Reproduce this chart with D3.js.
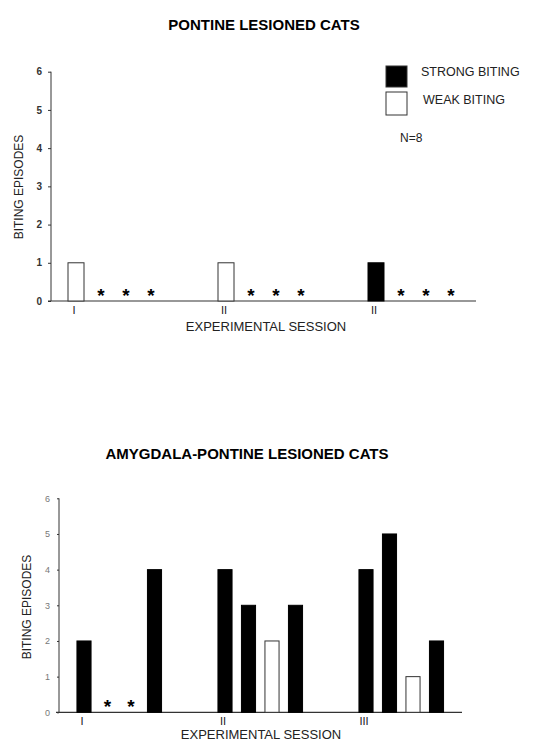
<!DOCTYPE html>
<html>
<head>
<meta charset="utf-8">
<script src="https://cdn.jsdelivr.net/npm/d3@7"></script>
<style>
  body { margin: 0; background: #fff; }
  svg { font-family: "Liberation Sans", Arial, sans-serif; }
  .domain, .tick line { stroke: #333; }
</style>
</head>
<body>
<div id="chart"></div>
<script>
"use strict";

// slots: 3 sessions x 4 cats, two empty slots between sessions
var sessions = ["I", "II", "III"];
var topSessionLabels = ["I", "II", "II"];
var catsPerSession = 4;
var gapSlots = 2;
var yTicks = [0, 1, 2, 3, 4, 5, 6];

// "S" strong biting, "W" weak biting, "*" no biting
var topTypes = ["W", "*", "*", "*", "W", "*", "*", "*", "S", "*", "*", "*"];
var topValues = [1, 0, 0, 0, 1, 0, 0, 0, 1, 0, 0, 0];

var bottomTypes = ["S", "*", "*", "S", "S", "S", "W", "S", "S", "S", "W", "S"];
var bottomValues = [2, 0, 0, 4, 4, 3, 2, 3, 4, 5, 1, 2];

var legendLabels = ["STRONG BITING", "WEAK BITING"];
var nLabel = "N=8";

var width = 534, height = 742;

var svg = d3
  .select("#chart")
  .append("svg")
  .attr("width", width)
  .attr("height", height);

function slotOf(i) {
  var s = Math.floor(i / catsPerSession);
  return s * (catsPerSession + gapSlots) + (i % catsPerSession);
}

function drawPanel(p) {
  var nSlots = sessions.length * (catsPerSession + gapSlots) - gapSlots;
  var x = d3.scaleBand().domain(d3.range(nSlots)).range([p.barStart, p.barEnd]);
  var y = d3.scaleLinear().domain([0, 6]).range([p.bottom, p.top]);
  var bw = x.bandwidth() * p.barFrac;

  var data = p.types.map(function(t, i) {
    return { type: t, value: p.values[i], slot: slotOf(i) };
  });

  var g = svg.append("g");

  // y axis
  var yAxis = g
    .append("g")
    .attr("transform", "translate(" + p.left + ",0)")
    .call(d3.axisLeft(y).tickValues(yTicks).tickSize(p.tickSize).tickPadding(p.tickPad).tickFormat(d3.format("d")));
  yAxis.select(".domain").attr("d", "M0," + y(6) + "V" + y(0));
  yAxis
    .selectAll(".tick text")
    .attr("font-size", p.tickFont)
    .attr("font-weight", p.tickWeight)
    .attr("fill", p.tickColor)
    .attr("font-family", "Liberation Sans, Arial, sans-serif");

  // x baseline
  g.append("line")
    .attr("x1", p.left - 3)
    .attr("x2", p.right)
    .attr("y1", y(0))
    .attr("y2", y(0))
    .attr("stroke", "#333")
    .attr("stroke-width", 1.2);

  // bars
  g.selectAll("rect.bar")
    .data(data.filter(function(d) { return d.type !== "*"; }))
    .enter()
    .append("rect")
    .attr("class", "bar")
    .attr("x", function(d) { return x(d.slot) + (x.bandwidth() - bw) / 2; })
    .attr("width", bw)
    .attr("y", function(d) { return y(d.value); })
    .attr("height", function(d) { return y(0) - y(d.value); })
    .attr("fill", function(d) { return d.type === "S" ? "#000" : "#fff"; })
    .attr("stroke", function(d) { return d.type === "S" ? "#000" : "#333"; })
    .attr("stroke-width", 1);

  // stars for no biting
  g.selectAll("text.star")
    .data(data.filter(function(d) { return d.type === "*"; }))
    .enter()
    .append("text")
    .attr("class", "star")
    .attr("x", function(d) { return x(d.slot) + x.bandwidth() / 2; })
    .attr("y", y(0) + 1)
    .attr("text-anchor", "middle")
    .attr("font-size", 19)
    .attr("font-weight", "bold")
    .text("*");

  // session labels
  g.selectAll("text.session")
    .data(p.sessionLabels)
    .enter()
    .append("text")
    .attr("class", "session")
    .attr("x", function(d, i) { return x(i * (catsPerSession + gapSlots)) + x.bandwidth() / 2 - 2; })
    .attr("y", y(0) + p.sessionDy)
    .attr("text-anchor", "middle")
    .attr("font-size", 11)
    .attr("fill", "#222")
    .text(function(d) { return d; });

  g.append("text")
    .attr("x", p.xLabelX)
    .attr("y", y(0) + p.xLabelDy)
    .attr("text-anchor", "middle")
    .attr("font-size", 13)
    .attr("fill", "#222")
    .text("EXPERIMENTAL SESSION");

  g.append("text")
    .attr("transform", "translate(" + p.yLabelX + "," + p.yLabelY + ") rotate(-90)")
    .attr("text-anchor", "middle")
    .attr("font-size", 12)
    .attr("fill", "#222")
    .text("BITING EPISODES");

  g.append("text")
    .attr("x", p.titleX)
    .attr("y", p.titleY)
    .attr("text-anchor", "middle")
    .attr("font-size", 15)
    .attr("font-weight", "bold")
    .text(p.title);
}

drawPanel({
  title: "PONTINE LESIONED CATS",
  titleX: 264, titleY: 30,
  types: topTypes, values: topValues, sessionLabels: topSessionLabels,
  left: 51, right: 476, top: 71.7, bottom: 301,
  barStart: 63.5, barEnd: 463.5, barFrac: 0.64,
  tickSize: 3, tickPad: 6, tickFont: 10, tickWeight: "bold", tickColor: "#333",
  sessionDy: 13, xLabelX: 266, xLabelDy: 30,
  yLabelX: 23, yLabelY: 187
});

drawPanel({
  title: "AMYGDALA-PONTINE LESIONED CATS",
  titleX: 247, titleY: 459,
  types: bottomTypes, values: bottomValues, sessionLabels: sessions,
  left: 59, right: 462, top: 498.3, bottom: 712.3,
  barStart: 72.25, barEnd: 448.25, barFrac: 0.6,
  tickSize: 2, tickPad: 7, tickFont: 9, tickWeight: "normal", tickColor: "#777",
  sessionDy: 13, xLabelX: 261, xLabelDy: 27,
  yLabelX: 31, yLabelY: 607
});

// legend (top panel)
var legendColors = ["#000", "#fff"];
var leg = svg.append("g").attr("transform", "translate(386,66)");
leg.selectAll("rect")
  .data(legendLabels)
  .enter()
  .append("rect")
  .attr("x", 0)
  .attr("y", function(d, i) { return i * 26; })
  .attr("width", 21)
  .attr("height", function(d, i) { return i === 0 ? 21 : 23; })
  .attr("fill", function(d, i) { return legendColors[i]; })
  .attr("stroke", "#333");
leg.selectAll("text")
  .data(legendLabels)
  .enter()
  .append("text")
  .attr("x", function(d, i) { return 35 + i * 2; })
  .attr("y", function(d, i) { return 10 + i * 28; })
  .attr("font-size", 12.5)
  .attr("fill", "#222")
  .text(function(d) { return d; });
leg.append("text")
  .attr("x", 14)
  .attr("y", 76)
  .attr("font-size", 12)
  .attr("fill", "#222")
  .text(nLabel);
</script>
</body>
</html>
